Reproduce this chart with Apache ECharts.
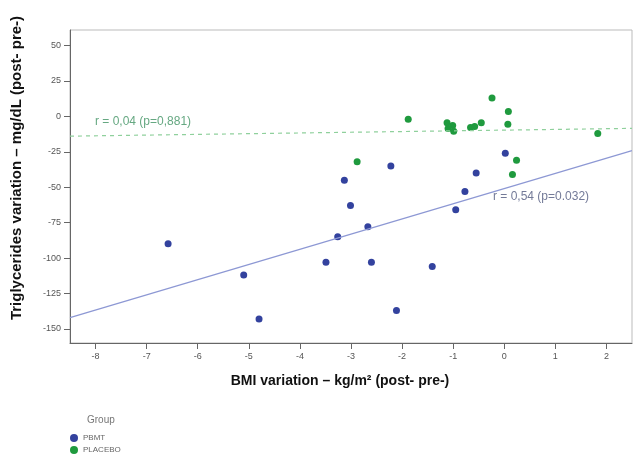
<!DOCTYPE html>
<html>
<head>
    <meta charset="utf-8">
    <title>BMI vs Triglycerides</title>
    <script src="https://cdn.jsdelivr.net/npm/echarts@6/dist/echarts.min.js"></script>
    <style>
        body { margin: 0; background: #fff; }
        #chart { width: 633px; height: 459px; }
    </style>
</head>
<body>
    <div id="chart"></div>
    <script>
        // tick labels
        const xTicks = [-8, -7, -6, -5, -4, -3, -2, -1, 0, 1, 2];
        const yTicks = [-150, -125, -100, -75, -50, -25, 0, 25, 50];

        // BMI variation (x), triglycerides variation (y)
        const pbmtBmi = [-6.58, -5.10, -4.80, -3.49, -3.26, -3.13, -3.01, -2.67, -2.60, -2.22, -2.11, -1.41, -0.95, -0.77, -0.55, 0.02];
        const pbmtTg  = [-90, -112, -143, -103, -85, -45, -63, -78, -103, -35, -137, -106, -66, -53, -40, -26];

        const placeboBmi = [-2.88, -1.88, -1.12, -1.01, -1.10, -0.99, -0.66, -0.58, -0.45, -0.24, 0.08, 0.07, 0.24, 0.16, 1.83];
        const placeboTg  = [-32, -2, -4.5, -6.5, -8.5, -10.5, -7.8, -7.2, -4.5, 13, 3.5, -5.5, -31, -41, -12];

        // fitted lines
        const pbmtFit = { slope: 10.72, intercept: -51 };
        const placeboFit = { slope: 0.5, intercept: -9.7 };

        const xMin = -8.5, xMax = 2.5;
        const yMin = -160, yMax = 61;

        const blue = '#33429e';
        const green = '#1f9a3e';

        function pairs(xs, ys) {
            return xs.map((x, i) => [x, ys[i]]);
        }
        function fitLine(f) {
            return [xMin, xMax].map(x => [x, f.intercept + f.slope * x]);
        }

        const chart = echarts.init(document.getElementById('chart'));

        const axisCommon = {
            type: 'value',
            axisLine: { show: true, onZero: false, lineStyle: { color: '#666', width: 1 } },
            axisTick: { show: true, length: 6, lineStyle: { color: '#666' } },
            axisLabel: { color: '#555', fontSize: 9, fontFamily: 'Liberation Sans' },
            splitLine: { show: false }
        };

        chart.setOption({
            backgroundColor: '#fff',
            animation: false,
            grid: {
                left: 70, right: 1, top: 30, bottom: 116,
                show: true, borderColor: '#bbb', borderWidth: 1
            },
            xAxis: Object.assign({}, axisCommon, {
                min: xMin, max: xMax,
                axisTick: Object.assign({}, axisCommon.axisTick, { customValues: xTicks }),
                axisLabel: Object.assign({}, axisCommon.axisLabel, { customValues: xTicks, margin: 9 })
            }),
            yAxis: Object.assign({}, axisCommon, {
                min: yMin, max: yMax,
                axisTick: Object.assign({}, axisCommon.axisTick, { customValues: yTicks }),
                axisLabel: Object.assign({}, axisCommon.axisLabel, { customValues: yTicks, margin: 9 })
            }),
            legend: {
                data: ['PBMT', 'PLACEBO'],
                orient: 'vertical',
                left: 65, top: 429,
                icon: 'circle',
                itemWidth: 8, itemHeight: 8, itemGap: 4,
                textStyle: { color: '#666', fontSize: 8, fontFamily: 'Liberation Sans' }
            },
            graphic: [
                {
                    type: 'text', x: 17, y: 168, rotation: Math.PI / 2,
                    style: {
                        text: 'Triglycerides variation – mg/dL (post- pre-)',
                        fill: '#111', font: 'bold 15px "Liberation Sans"',
                        align: 'center', verticalAlign: 'middle'
                    }
                },
                {
                    type: 'text', x: 340, y: 381,
                    style: {
                        text: 'BMI variation – kg/m² (post- pre-)',
                        fill: '#111', font: 'bold 14px "Liberation Sans"',
                        align: 'center', verticalAlign: 'middle'
                    }
                },
                {
                    type: 'text', x: 87, y: 420,
                    style: {
                        text: 'Group', fill: '#777', font: '10px "Liberation Sans"',
                        align: 'left', verticalAlign: 'middle'
                    }
                },
                {
                    type: 'text', x: 95, y: 122,
                    style: {
                        text: 'r = 0,04 (p=0,881)', fill: '#66a882', font: '12px "Liberation Sans"',
                        align: 'left', verticalAlign: 'middle'
                    }
                },
                {
                    type: 'text', x: 493, y: 197,
                    style: {
                        text: 'r = 0,54 (p=0.032)', fill: '#737a98', font: '12px "Liberation Sans"',
                        align: 'left', verticalAlign: 'middle'
                    }
                }
            ],
            series: [
                {
                    name: 'PBMT fit', type: 'line', data: fitLine(pbmtFit),
                    symbol: 'none', silent: true,
                    lineStyle: { color: '#8d98d4', width: 1.2 }
                },
                {
                    name: 'PLACEBO fit', type: 'line', data: fitLine(placeboFit),
                    symbol: 'none', silent: true,
                    lineStyle: { color: '#8fd09c', width: 1.2, type: [4, 4] }
                },
                {
                    name: 'PBMT', type: 'scatter', data: pairs(pbmtBmi, pbmtTg),
                    symbolSize: 7, itemStyle: { color: blue, opacity: 1 }
                },
                {
                    name: 'PLACEBO', type: 'scatter', data: pairs(placeboBmi, placeboTg),
                    symbolSize: 7, itemStyle: { color: green, opacity: 1 }
                }
            ]
        });

        window.addEventListener('resize', () => chart.resize());
    </script>
</body>
</html>
